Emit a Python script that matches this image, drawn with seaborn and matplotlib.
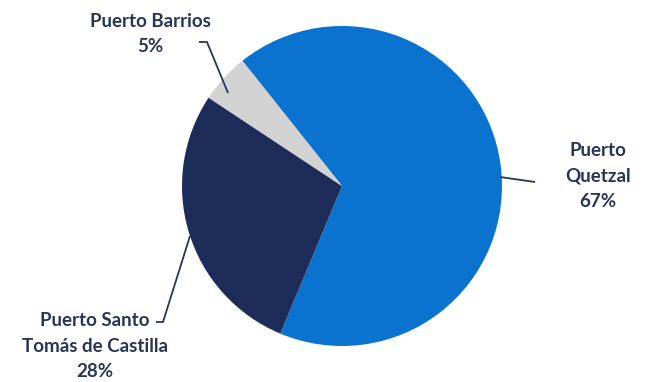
import matplotlib
matplotlib.use("Agg")
import matplotlib.pyplot as plt
import seaborn as sns
import numpy as np

# Port share of cargo
ports = ["Puerto Quetzal", "Puerto Santo\nTomás de Castilla", "Puerto Barrios"]
shares = [67, 28, 5]
colors = ["#0A73D0", "#1E2C59", "#D2D2D2"]

sns.set_theme(style="white")
plt.rcParams["font.family"] = ["Lato", "DejaVu Sans"]

W, H = 651, 382
fig = plt.figure(figsize=(W / 100, H / 100), dpi=100)
ax = fig.add_axes([0, 0, 1, 1])

cx, cy, r = 342, H - 186, 160
ax.pie(shares, colors=colors, startangle=128.5, counterclock=False,
       center=(cx, cy), radius=r, frame=True,
       wedgeprops=dict(linewidth=0))
ax.set_xlim(0, W)
ax.set_ylim(0, H)
ax.set_aspect("equal")
ax.axis("off")

txt = dict(color="#2A3556", fontsize=13.5, fontweight="bold",
           ha="center", va="center", linespacing=1.6)
line = dict(color="#2A3556", lw=1.3, solid_capstyle="butt")

# Puerto Quetzal
ax.text(598, H - 176, f"Puerto\nQuetzal\n{shares[0]}%", **txt)
ax.plot([500, 535], [H - 177, H - 182], **line)

# Puerto Santo Tomás de Castilla
ax.text(95, H - 346, f"{ports[1]}\n{shares[1]}%", **txt)
ax.plot([190, 163, 156], [H - 236, H - 322, H - 322], **line)

# Puerto Barrios
ax.text(150, H - 34, f"{ports[2]}\n{shares[2]}%", **txt)
ax.plot([228, 207, 199], [H - 93, H - 42, H - 42], **line)

fig.savefig("out.png", dpi=100, facecolor="white")
